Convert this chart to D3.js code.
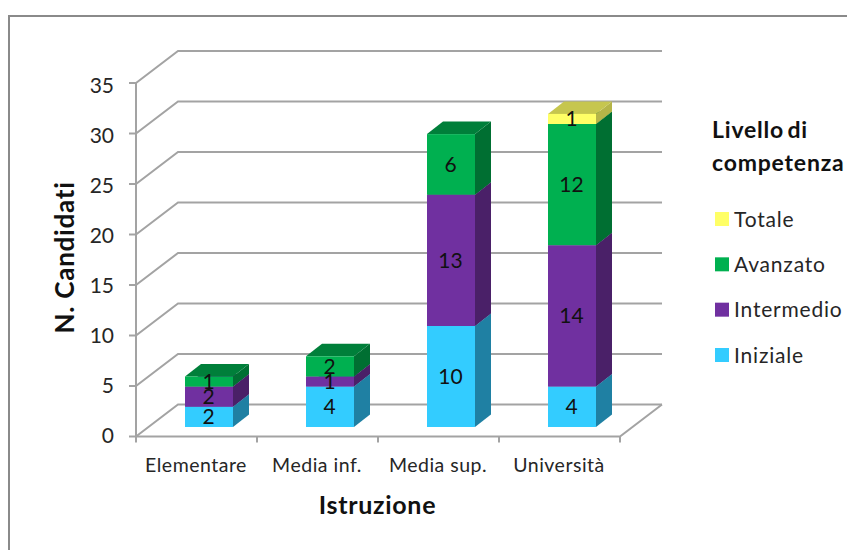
<!DOCTYPE html>
<html>
<head>
<meta charset="utf-8">
<script src="https://cdn.jsdelivr.net/npm/d3@7"></script>
<style>
  html, body { margin: 0; padding: 0; background: #fff; }
  svg { display: block; font-family: Lato, "Open Sans", sans-serif; }
</style>
</head>
<body>
<svg id="chart" width="847" height="550"></svg>
<script>
// Candidates by education level and competence level
const categories = ["Elementare", "Media inf.", "Media sup.", "Università"];
const seriesNames = ["Iniziale", "Intermedio", "Avanzato", "Totale"];
const iniziale = [2, 4, 10, 4];
const intermedio = [2, 1, 13, 14];
const avanzato = [1, 2, 6, 12];
const totale = [0, 0, 0, 1];
const yTicks = [0, 5, 10, 15, 20, 25, 30, 35];
const legendOrder = ["Totale", "Avanzato", "Intermedio", "Iniziale"];
const legendTitle = ["Livello di", "competenza"];
const xTitle = "Istruzione";
const yTitle = "N. Candidati";

const faceColors = {
  Iniziale:   { front: "#33ccff", side: "#1f80a3", top: "#2a9fc8" },
  Intermedio: { front: "#7030a0", side: "#4a2068", top: "#56257c" },
  Avanzato:   { front: "#00b050", side: "#006f32", top: "#007f3a" },
  Totale:     { front: "#ffff66", side: "#b5b548", top: "#c6c64e" }
};

const gridColor = "#a3a3a3";
const textColor = "#262626";

const svg = d3.select("#chart");

// Oblique projection: the wall sits behind the front plane of the floor
const wallDx = 42, wallDy = -32;
const barDx = 16, barDy = -12.5;
const barShiftX = 12.5, barShiftY = -9.5;

const x = d3.scaleBand().domain(categories).range([136, 620]).paddingInner(0).paddingOuter(0);
const y = d3.scaleLinear().domain([0, 35]).range([436.5, 83]);
// Baselines of the value-axis labels
const yLabel = d3.scaleLinear().domain([0, 35]).range([443, 93]);

// Chart frame
svg.append("rect")
  .attr("x", 9).attr("y", 16)
  .attr("width", 900).attr("height", 600)
  .attr("fill", "#fff")
  .attr("stroke", "#8a8a8a").attr("stroke-width", 2);

// Wall gridlines with their floor-side return
const grid = svg.append("g").attr("fill", "none").attr("stroke", gridColor).attr("stroke-width", 2);
const [x0, x1] = x.range();
yTicks.forEach(t => {
  const line = d3.line()([
    [x0, y(t)],
    [x0 + wallDx, y(t) + wallDy],
    [x1 + wallDx, y(t) + wallDy]
  ]);
  grid.append("path").attr("d", line);
});

// Floor front edge and right side
grid.append("path").attr("d", d3.line()([
  [x0, y(0)], [x1, y(0)], [x1 + wallDx, y(0) + wallDy]
]));

// Value axis and tick marks
grid.append("line").attr("x1", x0).attr("x2", x0).attr("y1", y(35)).attr("y2", y(0) + 4);
yTicks.forEach(t => {
  grid.append("line").attr("x1", x0 - 7).attr("x2", x0).attr("y1", y(t)).attr("y2", y(t));
});
[...categories.map(c => x(c)), x1].forEach(px => {
  grid.append("line").attr("x1", px).attr("x2", px).attr("y1", y(0)).attr("y2", y(0) + 6);
});

// Tick labels
svg.append("g").selectAll("text").data(yTicks).join("text")
  .attr("x", 114).attr("y", d => yLabel(d))
  .attr("text-anchor", "end")
  .attr("font-size", 21).attr("fill", textColor)
  .text(d => d);

svg.append("g").selectAll("text").data(categories).join("text")
  .attr("x", d => x(d) + x.bandwidth() / 2 - 0.5)
  .attr("y", 472)
  .attr("text-anchor", "middle")
  .attr("font-size", 19.5).attr("letter-spacing", 0.5).attr("fill", textColor)
  .text(d => d);

// Stacked bars
const rows = categories.map((c, i) => ({
  category: c,
  Iniziale: iniziale[i],
  Intermedio: intermedio[i],
  Avanzato: avanzato[i],
  Totale: totale[i]
}));
const stacked = d3.stack().keys(seriesNames)(rows);
const barInset = 36.5;
const barWidth = x.bandwidth() - barInset * 2;

const bars = svg.append("g");
stacked.forEach(layer => {
  const colors = faceColors[layer.key];
  layer.forEach(d => {
    if (d[1] === d[0]) return;
    const left = x(d.data.category) + barInset + barShiftX;
    const right = left + barWidth;
    const bottom = y(d[0]) + barShiftY;
    const top = y(d[1]) + barShiftY;
    const face = bars.append("g");
    face.append("path").attr("fill", colors.side).attr("d", d3.line()([
      [right, bottom], [right + barDx, bottom + barDy], [right + barDx, top + barDy], [right, top]
    ]) + "Z");
    face.append("path").attr("fill", colors.top).attr("d", d3.line()([
      [left, top], [left + barDx, top + barDy], [right + barDx, top + barDy], [right, top]
    ]) + "Z");
    face.append("rect")
      .attr("x", left).attr("y", top)
      .attr("width", barWidth).attr("height", bottom - top)
      .attr("fill", colors.front);
  });
});

// Value labels, drawn after all bars so they stay on top
const labels = svg.append("g");
stacked.forEach(layer => {
  layer.forEach(d => {
    if (d[1] === d[0]) return;
    labels.append("text")
      .attr("x", x(d.data.category) + x.bandwidth() / 2 + barShiftX - 0.5)
      .attr("y", (y(d[0]) + y(d[1])) / 2 + barShiftY + 7.5)
      .attr("text-anchor", "middle")
      .attr("font-size", 21).attr("fill", "#111")
      .text(d[1] - d[0]);
  });
});

// Axis titles
svg.append("text")
  .attr("x", 377.5).attr("y", 514)
  .attr("text-anchor", "middle")
  .attr("font-size", 25).attr("letter-spacing", 0.7).attr("font-weight", 700).attr("fill", "#111")
  .text(xTitle);

svg.append("text")
  .attr("transform", "translate(74,257.5) rotate(-90)")
  .attr("text-anchor", "middle")
  .attr("font-size", 26).attr("letter-spacing", 0.75).attr("font-weight", 700).attr("fill", "#111")
  .text(yTitle);

// Legend
svg.append("g").selectAll("text").data(legendTitle).join("text")
  .attr("x", 712).attr("y", (d, i) => 138 + i * 33)
  .attr("font-size", 23).attr("letter-spacing", 0.8).attr("word-spacing", -3)
  .attr("font-weight", 700).attr("fill", "#111")
  .text(d => d);

const legendRow = d3.scalePoint().domain(legendOrder).range([219, 355]);
const legend = svg.append("g").selectAll("g").data(legendOrder).join("g")
  .attr("transform", d => `translate(715,${legendRow(d)})`);
legend.append("rect")
  .attr("x", 0).attr("y", -7).attr("width", 14).attr("height", 14)
  .attr("fill", d => faceColors[d].front);
legend.append("text")
  .attr("x", 19).attr("y", 7.5)
  .attr("font-size", 21).attr("letter-spacing", 0.8).attr("fill", textColor)
  .text(d => d);
</script>
</body>
</html>
